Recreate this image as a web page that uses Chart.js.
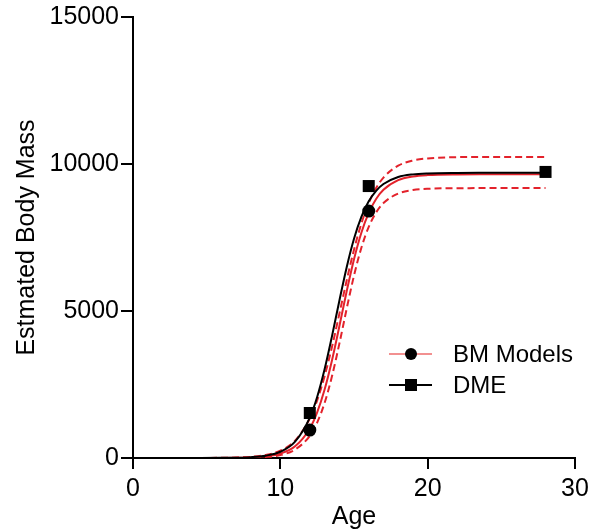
<!DOCTYPE html>
<html>
<head>
<meta charset="utf-8">
<script src="https://cdn.jsdelivr.net/npm/chart.js@4/dist/chart.umd.min.js"></script>
<style>
  html, body { margin: 0; padding: 0; background: #fff; }
  #wrap { width: 597px; height: 532px; }
</style>
</head>
<body>
<div id="wrap"><canvas id="myChart" width="597" height="532"></canvas></div>
<script>
// DATA
const curveAges = [0, 2, 4, 6, 7, 8, 9, 10, 11, 12, 12.5, 13, 13.5, 14, 14.5, 15, 15.5, 16, 16.5, 17, 18, 19, 20, 22, 24, 26, 28];
const dmeFit    = [0, 1, 3, 5, 11, 29, 79, 212, 557, 1376, 2077, 3007, 4128, 5333, 6481, 7456, 8202, 8732, 9089, 9320, 9557, 9647, 9680, 9697, 9700, 9700, 9700];
const bmFit     = [0, 0, 1, 3, 8, 21, 56, 150, 397, 1007, 1554, 2321, 3310, 4463, 5661, 6760, 7663, 8339, 8810, 9123, 9449, 9575, 9622, 9646, 9650, 9650, 9650];
const bmUpper   = [0, 1, 2, 6, 15, 40, 103, 250, 592, 1344, 1962, 2775, 3770, 4890, 6031, 7087, 7975, 8671, 9181, 9539, 9943, 10117, 10190, 10232, 10240, 10240, 10240];
const bmLower   = [0, 0, 0, 1, 4, 12, 35, 99, 287, 753, 1205, 1867, 2768, 3873, 5070, 6205, 7151, 7861, 8351, 8671, 8995, 9114, 9157, 9177, 9180, 9180, 9180];

const bmAges    = [12, 16];
const bmMass    = [950, 8400];
const dmeAges   = [12, 16, 28];
const dmeMass   = [1530, 9250, 9730];

const xTicks = [0, 10, 20, 30];
const yTicks = [0, 5000, 10000, 15000];

const RED = '#e3222b';
const FONT = 'Liberation Sans, Arial, sans-serif';

const pts = (xs, ys) => xs.map((x, i) => ({ x: x, y: ys[i] }));

// legend drawn like the original: short line with the marker on it
const legendPlugin = {
  id: 'fitLegend',
  afterDraw(chart) {
    const c = chart.ctx;
    const rows = [
      { label: 'BM Models', color: '#ee6b6b', style: 'circle', y: 354 },
      { label: 'DME', color: '#000', style: 'rect', y: 385 }
    ];
    c.save();
    rows.forEach(r => {
      c.strokeStyle = r.color;
      c.lineWidth = r.style === 'circle' ? 1.5 : 2;
      c.beginPath();
      c.moveTo(389, r.y);
      c.lineTo(432, r.y);
      c.stroke();
      c.fillStyle = '#000';
      c.beginPath();
      if (r.style === 'circle') {
        c.arc(411, r.y, 6, 0, Math.PI * 2);
      } else {
        c.rect(405, r.y - 6, 12, 12);
      }
      c.fill();
      c.font = '24px ' + FONT;
      c.textBaseline = 'middle';
      c.textAlign = 'left';
      c.fillText(r.label, 453, r.y + 1);
    });
    c.restore();
  }
};

const ctx = document.getElementById('myChart').getContext('2d');

const chart = new Chart(ctx, {
  type: 'scatter',
  data: {
    datasets: [
      {
        label: 'DME',
        data: pts(dmeAges, dmeMass),
        pointStyle: 'rect',
        pointRadius: 8.5,
        backgroundColor: '#000',
        borderColor: '#000',
        borderWidth: 0
      },
      {
        label: 'DME fit',
        data: pts(curveAges, dmeFit),
        showLine: true,
        pointRadius: 0,
        borderColor: '#000',
        borderWidth: 2,
        cubicInterpolationMode: 'monotone'
      },
      {
        label: 'BM Models',
        data: pts(bmAges, bmMass),
        pointStyle: 'circle',
        pointRadius: 6.5,
        backgroundColor: '#000',
        borderColor: '#000',
        borderWidth: 0
      },
      {
        label: 'BM Models fit',
        data: pts(curveAges, bmFit),
        showLine: true,
        pointRadius: 0,
        borderColor: RED,
        borderWidth: 2,
        cubicInterpolationMode: 'monotone'
      },
      {
        label: 'upper',
        data: pts(curveAges, bmUpper),
        showLine: true,
        pointRadius: 0,
        borderColor: RED,
        borderWidth: 2,
        borderDash: [7, 4],
        cubicInterpolationMode: 'monotone'
      },
      {
        label: 'lower',
        data: pts(curveAges, bmLower),
        showLine: true,
        pointRadius: 0,
        borderColor: RED,
        borderWidth: 2,
        borderDash: [7, 4],
        cubicInterpolationMode: 'monotone'
      }
    ]
  },
  options: {
    responsive: false,
    animation: false,
    layout: { padding: { top: 17, right: 22, bottom: 0, left: 0 } },
    plugins: {
      legend: { display: false },
      tooltip: { enabled: false }
    },
    scales: {
      x: {
        type: 'linear',
        min: 0,
        max: 30,
        afterBuildTicks: s => { s.ticks = xTicks.map(v => ({ value: v })); },
        afterFit: s => { s.height = 74; },
        grid: { drawOnChartArea: false, color: '#000', lineWidth: 2, tickLength: 11 },
        border: { color: '#000', width: 2 },
        ticks: { color: '#000', padding: 5, callback: v => String(v), font: { family: FONT, size: 25 } },
        title: { display: true, text: 'Age', color: '#000', padding: { top: 0, bottom: 0 }, font: { family: FONT, size: 25 } }
      },
      y: {
        type: 'linear',
        min: 0,
        max: 15000,
        afterBuildTicks: s => { s.ticks = yTicks.map(v => ({ value: v })); },
        afterFit: s => { s.width = 133; },
        grid: { drawOnChartArea: false, color: '#000', lineWidth: 2, tickLength: 12 },
        border: { color: '#000', width: 2 },
        ticks: { color: '#000', padding: 2, callback: v => String(v), font: { family: FONT, size: 25 } },
        title: { display: true, text: 'Estmated Body Mass', color: '#000', padding: { top: 12, bottom: 0 }, font: { family: FONT, size: 25 } }
      }
    }
  },
  plugins: [legendPlugin]
});
</script>
</body>
</html>
